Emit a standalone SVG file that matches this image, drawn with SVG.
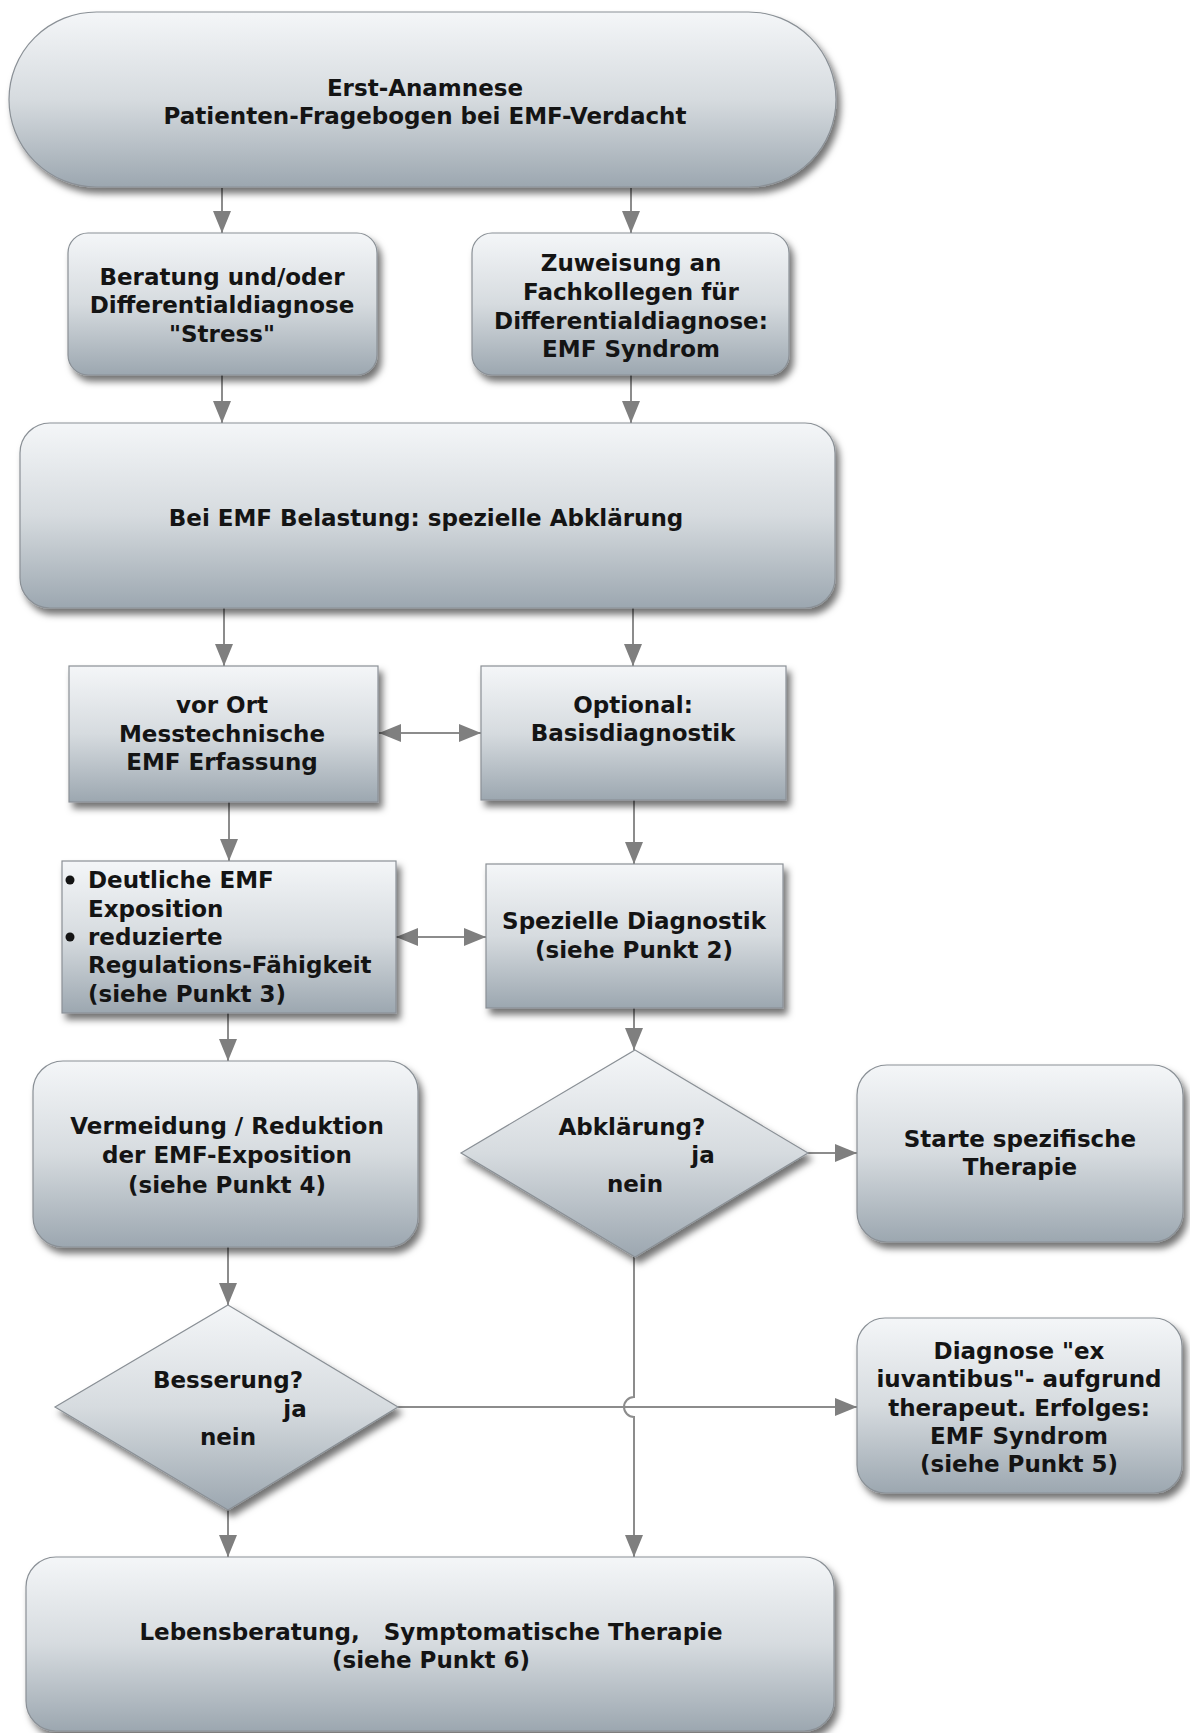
<svg xmlns="http://www.w3.org/2000/svg" width="1190" height="1733" viewBox="0 0 1190 1733">
<defs>
<linearGradient id="g" x1="0" y1="0" x2="0" y2="1">
<stop offset="0" stop-color="#f4f6f8"/>
<stop offset="0.5" stop-color="#d6dbdf"/>
<stop offset="1" stop-color="#9ca7b0"/>
</linearGradient>
<filter id="sh" x="-10%" y="-10%" width="125%" height="130%">
<feDropShadow dx="4" dy="6" stdDeviation="3.5" flood-color="#000" flood-opacity="0.55"/>
</filter>
<marker id="ah" markerUnits="userSpaceOnUse" markerWidth="22" markerHeight="18" refX="22" refY="9" orient="auto-start-reverse" viewBox="0 0 22 18">
<path d="M0,0 L22,9 L0,18 z" fill="#7f7f7f"/>
</marker>
<style>
.n{fill:url(#g);stroke:#8a9096;stroke-width:1.2;filter:url(#sh)}
.t{font-family:"DejaVu Sans",Verdana,sans-serif;font-weight:bold;font-size:23px;fill:#141414;text-anchor:middle}
.l{text-anchor:start}
.c{fill:none;stroke:#8c8c8c;stroke-width:2}
.a{marker-end:url(#ah)}
.d{marker-start:url(#ah);marker-end:url(#ah)}
</style>
</defs>
<rect width="1190" height="1733" fill="#fff"/>

<g id="connectors">
<path class="c a" d="M222,188 V233"/>
<path class="c a" d="M631,188 V233"/>
<path class="c a" d="M222,375 V423"/>
<path class="c a" d="M631,375 V423"/>
<path class="c a" d="M224,608 V666"/>
<path class="c a" d="M633,608 V666"/>
<path class="c d" d="M379,733 H481"/>
<path class="c a" d="M229,802 V861"/>
<path class="c a" d="M634,800 V864"/>
<path class="c d" d="M396,937 H486"/>
<path class="c a" d="M228,1013 V1061"/>
<path class="c a" d="M634,1008 V1050"/>
<path class="c a" d="M808,1153 H857"/>
<path class="c a" d="M228,1247 V1305"/>
<path class="c a" d="M398,1407 H857"/>
<path class="c a" d="M634,1257 V1397 A10,10 0 0 0 634,1417 V1557"/>
<path class="c a" d="M228,1510 V1557"/>
</g>

<g id="n1">
<rect class="n" x="9" y="12" width="827" height="175" rx="87.5"/>
<text class="t" x="425" y="96">Erst-Anamnese</text>
<text class="t" x="425" y="124">Patienten-Fragebogen bei EMF-Verdacht</text>
</g>

<g id="n2">
<rect class="n" x="68" y="233" width="309" height="142" rx="20"/>
<text class="t" x="222" y="285">Beratung und/oder</text>
<text class="t" x="222" y="313">Differentialdiagnose</text>
<text class="t" x="222" y="342">"Stress"</text>
</g>

<g id="n3">
<rect class="n" x="472" y="233" width="317" height="142" rx="20"/>
<text class="t" x="631" y="271">Zuweisung an</text>
<text class="t" x="631" y="300">Fachkollegen für</text>
<text class="t" x="631" y="329">Differentialdiagnose:</text>
<text class="t" x="631" y="357">EMF Syndrom</text>
</g>

<g id="n4">
<rect class="n" x="20" y="423" width="815" height="185" rx="30"/>
<text class="t" x="426" y="526">Bei EMF Belastung: spezielle Abklärung</text>
</g>

<g id="n5">
<rect class="n" x="69" y="666" width="309" height="136"/>
<text class="t" x="222" y="713">vor Ort</text>
<text class="t" x="222" y="742">Messtechnische</text>
<text class="t" x="222" y="770">EMF Erfassung</text>
</g>

<g id="n6">
<rect class="n" x="481" y="666" width="305" height="134"/>
<text class="t" x="633" y="713">Optional:</text>
<text class="t" x="633" y="741">Basisdiagnostik</text>
</g>

<g id="n7">
<rect class="n" x="62" y="861" width="334" height="152"/>
<circle cx="70" cy="880" r="4.5" fill="#141414"/>
<circle cx="70" cy="937" r="4.5" fill="#141414"/>
<text class="t l" x="88" y="888">Deutliche EMF</text>
<text class="t l" x="88" y="917">Exposition</text>
<text class="t l" x="88" y="945">reduzierte</text>
<text class="t l" x="88" y="973">Regulations-Fähigkeit</text>
<text class="t l" x="88" y="1002">(siehe Punkt 3)</text>
</g>

<g id="n8">
<rect class="n" x="486" y="864" width="297" height="144"/>
<text class="t" x="634" y="929">Spezielle Diagnostik</text>
<text class="t" x="634" y="958">(siehe Punkt 2)</text>
</g>

<g id="n9">
<rect class="n" x="33" y="1061" width="385" height="186" rx="30"/>
<text class="t" x="227" y="1134">Vermeidung / Reduktion</text>
<text class="t" x="227" y="1163">der EMF-Exposition</text>
<text class="t" x="227" y="1193">(siehe Punkt 4)</text>
</g>

<g id="n10">
<polygon class="n" points="635,1050 808,1153 635,1257 461,1153"/>
<text class="t" x="632" y="1135">Abklärung?</text>
<text class="t" x="703" y="1163">ja</text>
<text class="t" x="635" y="1192">nein</text>
</g>

<g id="n11">
<rect class="n" x="857" y="1065" width="326" height="177" rx="30"/>
<text class="t" x="1020" y="1147">Starte spezifische</text>
<text class="t" x="1020" y="1175">Therapie</text>
</g>

<g id="n12">
<polygon class="n" points="228,1305 398,1407 228,1510 55,1407"/>
<text class="t" x="228" y="1388">Besserung?</text>
<text class="t" x="295" y="1417">ja</text>
<text class="t" x="228" y="1445">nein</text>
</g>

<g id="n13">
<rect class="n" x="857" y="1318" width="325" height="175" rx="28"/>
<text class="t" x="1019" y="1359">Diagnose "ex</text>
<text class="t" x="1019" y="1387">iuvantibus"- aufgrund</text>
<text class="t" x="1019" y="1416">therapeut. Erfolges:</text>
<text class="t" x="1019" y="1444">EMF Syndrom</text>
<text class="t" x="1019" y="1472">(siehe Punkt 5)</text>
</g>

<g id="n14">
<rect class="n" x="26" y="1557" width="808" height="174" rx="30"/>
<text class="t" x="431" y="1640" xml:space="preserve">Lebensberatung,   Symptomatische Therapie</text>
<text class="t" x="431" y="1668">(siehe Punkt 6)</text>
</g>
</svg>
